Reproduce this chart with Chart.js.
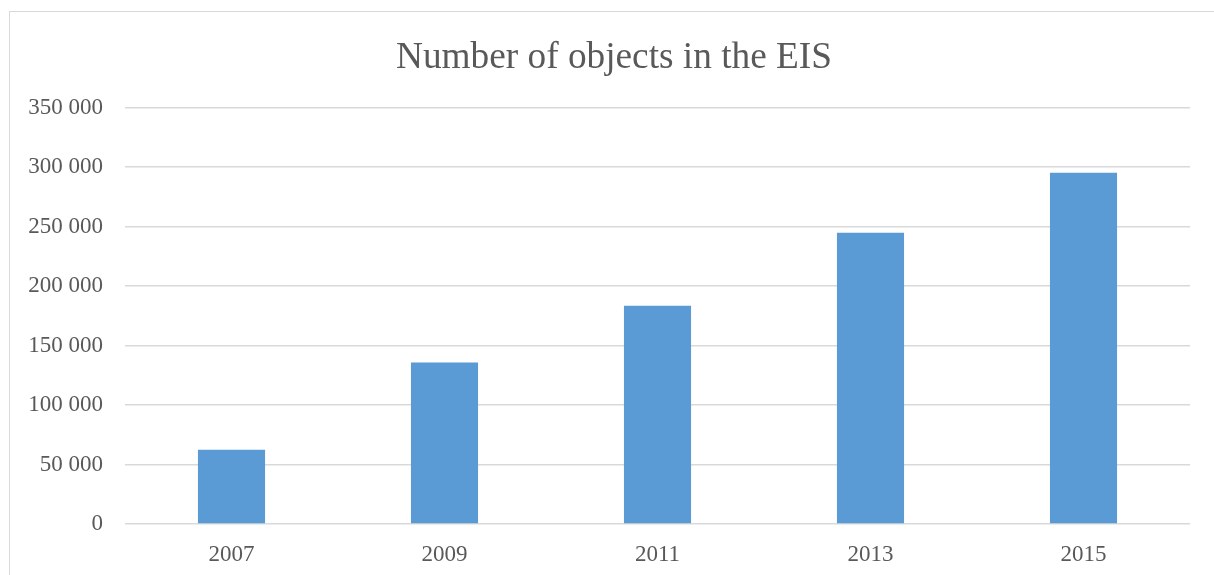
<!DOCTYPE html>
<html>
<head>
<meta charset="utf-8">
<script src="https://cdn.jsdelivr.net/npm/chart.js@4"></script>
<style>
  html, body { margin: 0; padding: 0; background: #fff; overflow: hidden; }
  #frame {
    position: absolute; left: 9px; top: 11px;
    width: 1208px; height: 580px;
    border: 1px solid #d9d9d9;
  }
  #wrap { position: absolute; left: 0; top: 0; width: 1208px; height: 570px; }
</style>
</head>
<body>
<div id="frame"><div id="wrap"><canvas id="eisChart"></canvas></div></div>
<script>
// ----------------- DATA -----------------
const years = ["2007", "2009", "2011", "2013", "2015"];
const objectCounts = [62500, 135800, 183500, 245000, 295300];
const yTicks = [0, 50000, 100000, 150000, 200000, 250000, 300000, 350000];

const TEXT = "#595959";
const SERIF = "'Liberation Serif', 'Times New Roman', serif";

// 350000 -> "350 000"
function spaced(v) {
    return String(v).replace(/\B(?=(\d{3})+(?!\d))/g, " ");
}

const ctx = document.getElementById("eisChart").getContext("2d");
new Chart(ctx, {
    type: "bar",
    data: {
        labels: years,
        datasets: [{
            label: "Objects",
            data: objectCounts,
            backgroundColor: "#5b9bd5",
            borderWidth: 0,
            barPercentage: 0.315,
            categoryPercentage: 1
        }]
    },
    options: {
        responsive: true,
        maintainAspectRatio: false,
        animation: false,
        layout: { padding: 0 },
        plugins: {
            legend: { display: false },
            tooltip: { enabled: false },
            title: {
                display: true,
                text: "Number of objects in the EIS",
                color: TEXT,
                font: { family: SERIF, size: 37.3, weight: "normal" },
                padding: { top: 24, bottom: 27 }
            }
        },
        scales: {
            x: {
                grid: { display: false, drawTicks: false },
                border: { display: false },
                ticks: {
                    color: TEXT,
                    font: { family: SERIF, size: 23 },
                    padding: 17,
                    maxRotation: 0
                },
                afterFit: s => { s.height = 58; }
            },
            y: {
                min: 0,
                max: 350000,
                afterBuildTicks: s => { s.ticks = yTicks.map(v => ({ value: v })); },
                grid: { color: "#d9d9d9", lineWidth: 1.5, drawTicks: false },
                border: { display: false },
                ticks: {
                    color: TEXT,
                    font: { family: SERIF, size: 23 },
                    padding: 22,
                    callback: v => spaced(v)
                },
                afterFit: s => { s.width = 115; }
            },
            // empty right gutter so the title stays centred on the whole box
            gutter: {
                type: "linear",
                position: "right",
                grid: { display: false, drawTicks: false },
                border: { display: false },
                ticks: { display: false },
                afterFit: s => { s.width = 28; }
            }
        }
    }
});
</script>
</body>
</html>
